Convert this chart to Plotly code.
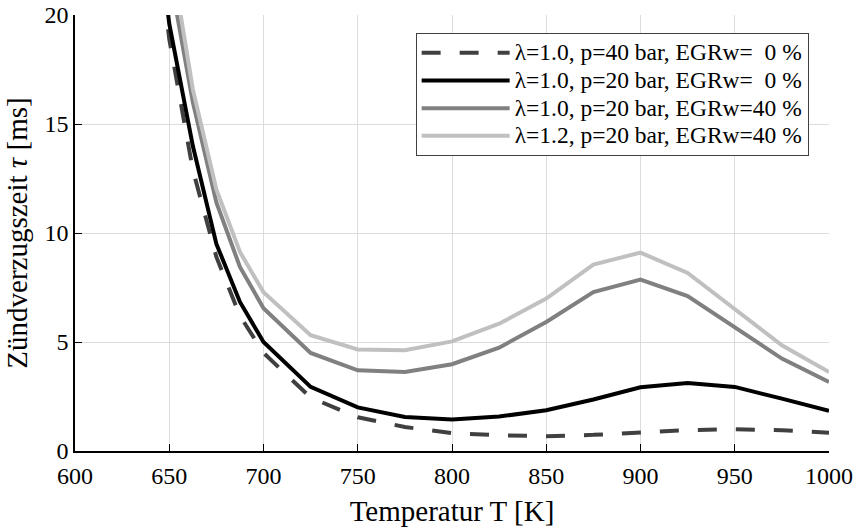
import plotly.graph_objects as go

T = [637.5, 650, 662.5, 675, 687.5, 700, 725, 750, 775, 800, 825, 850, 875, 900, 925, 950, 975, 1000]

tau_p40 = [28.0, 18.9, 12.9, 8.9, 6.2, 4.5, 2.45, 1.55, 1.1, 0.82, 0.72, 0.68, 0.74, 0.84, 0.96, 1.0, 0.95, 0.84]
tau_p20 = [28.5, 19.6, 14.0, 9.5, 6.84, 5.0, 2.94, 2.0, 1.56, 1.45, 1.58, 1.87, 2.36, 2.92, 3.12, 2.94, 2.40, 1.84]
tau_p20_egr40 = [31.0, 22.0, 16.0, 11.4, 8.44, 6.55, 4.5, 3.7, 3.62, 3.98, 4.74, 5.92, 7.29, 7.86, 7.11, 5.69, 4.24, 3.17]
tau_l12_egr40 = [32.0, 23.2, 16.6, 12.0, 9.13, 7.28, 5.31, 4.66, 4.62, 5.03, 5.84, 6.99, 8.55, 9.10, 8.17, 6.53, 4.85, 3.62]

names = [
    "λ=1.0, p=40 bar, EGRw=\u20070 %",
    "λ=1.0, p=20 bar, EGRw=\u20070 %",
    "λ=1.0, p=20 bar, EGRw=40 %",
    "λ=1.2, p=20 bar, EGRw=40 %",
]
series = [tau_p40, tau_p20, tau_p20_egr40, tau_l12_egr40]
colors = ["#404040", "#000000", "#808080", "#c0c0c0"]
dashes = ["19px,19px", "solid", "solid", "solid"]

x_ticks = [600, 650, 700, 750, 800, 850, 900, 950, 1000]
y_ticks = [0, 5, 10, 15, 20]

fig = go.Figure()
for n, s, c, d in zip(names, series, colors, dashes):
    fig.add_trace(go.Scatter(x=T, y=s, mode="lines",
                             name='<span style="font-size:23.5px">' + n + "</span>",
                             line=dict(color=c, width=4, dash=d)))

FONT = "Liberation Serif"
TICK = dict(family=FONT, size=24, color="black")
TITLE = dict(family=FONT, size=29, color="black")
fig.update_layout(
    width=861, height=527,
    margin=dict(l=75, r=32, t=15, b=76),
    paper_bgcolor="white", plot_bgcolor="white",
    font=dict(family=FONT, size=24, color="black"),
    showlegend=True,
    legend=dict(x=0.973, y=0.959, xanchor="right", yanchor="top",
                bordercolor="#404040", borderwidth=1, bgcolor="white",
                font=dict(family=FONT, size=19, color="black"),
                itemwidth=88, tracegroupgap=0),
    xaxis=dict(range=[600, 1000], tickvals=x_ticks, showgrid=True, gridcolor="#dcdcdc",
               showline=True, linecolor="black", linewidth=1.5, ticks="inside", ticklen=7,
               tickcolor="black", zeroline=False, ticklabelstandoff=2, automargin=False,
               tickfont=TICK,
               title=dict(text="Temperatur T [K]", standoff=15, font=TITLE)),
    yaxis=dict(range=[0, 20], tickvals=y_ticks, showgrid=True, gridcolor="#dcdcdc",
               showline=True, linecolor="black", linewidth=1.5, ticks="inside", ticklen=7,
               tickcolor="black", zeroline=False, ticklabelstandoff=0, automargin=False,
               tickfont=TICK,
               title=dict(text="Zündverzugszeit <i>τ</i> [ms]", standoff=8, font=TITLE)),
)

fig.write_html("out.html")
